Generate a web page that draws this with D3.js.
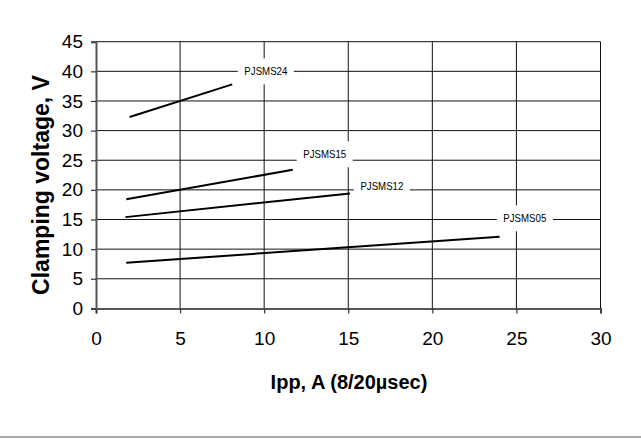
<!DOCTYPE html>
<html>
<head>
<meta charset="utf-8">
<script src="https://cdn.jsdelivr.net/npm/d3@7"></script>
<style>
  html, body { margin: 0; padding: 0; background: #fff; }
  svg { display: block; font-family: "Liberation Sans", Arial, sans-serif; }
</style>
</head>
<body>
<svg id="chart" width="641" height="439"></svg>
<script>
// device names and the two end points
const devices = ["PJSMS24", "PJSMS15", "PJSMS12", "PJSMS05"];
const ippFrom = [2.0, 1.8, 1.75, 1.8];
const ippTo = [8.1, 11.7, 15.1, 24.0];
const vcFrom = [32.3, 18.4, 15.4, 7.7];
const vcTo = [37.8, 23.4, 19.4, 12.1];
// where each name tag sits (data units)
const tagIpp = [10.1, 13.6, 17.0, 25.5];
const tagVc = [40.0, 26.0, 20.6, 15.2];

const xTicks = [0, 5, 10, 15, 20, 25, 30];
const yTicks = [0, 5, 10, 15, 20, 25, 30, 35, 40, 45];

const svg = d3.select("#chart");

const x = d3.scaleLinear().domain([0, 30]).range([96, 600.5]);
const y = d3.scaleLinear().domain([0, 45]).range([308.4, 41.7]);

// gridlines
const grid = svg.append("g").attr("stroke", "#111").attr("stroke-width", 1);
grid.selectAll("line.v")
  .data(xTicks.slice(1))
  .join("line")
  .attr("class", "v")
  .attr("x1", d => x(d)).attr("x2", d => x(d))
  .attr("y1", y(45)).attr("y2", y(0));
grid.selectAll("line.h")
  .data(yTicks.slice(1))
  .join("line")
  .attr("class", "h")
  .attr("x1", x(0)).attr("x2", x(30))
  .attr("y1", d => y(d)).attr("y2", d => y(d));

// axes
const xAxis = svg.append("g")
  .attr("transform", `translate(0,${y(0)})`)
  .call(d3.axisBottom(x).tickValues(xTicks).tickSize(5).tickPadding(18));
const yAxis = svg.append("g")
  .attr("transform", `translate(${x(0)},0)`)
  .call(d3.axisLeft(y).tickValues(yTicks).tickSize(5).tickPadding(8));

[xAxis, yAxis].forEach(g => {
  g.select(".domain").attr("stroke", "#555").attr("stroke-width", 2);
  g.selectAll(".tick line").attr("stroke", "#333").attr("stroke-width", 1.2);
  g.selectAll(".tick text")
    .attr("fill", "#000")
    .style("font-family", "'Liberation Sans', Arial, sans-serif")
    .style("font-size", "19px");
});

// series lines
const line = d3.line().x(d => x(d[0])).y(d => y(d[1]));
svg.append("g")
  .selectAll("path")
  .data(devices.map((name, i) => [[ippFrom[i], vcFrom[i]], [ippTo[i], vcTo[i]]]))
  .join("path")
  .attr("d", line)
  .attr("fill", "none")
  .attr("stroke", "#000")
  .attr("stroke-width", 2);

// name tags with white boxes that break the grid
const tags = svg.append("g")
  .selectAll("g")
  .data(devices)
  .join("g")
  .attr("transform", (d, i) => `translate(${x(tagIpp[i])},${y(tagVc[i])})`);
tags.append("rect")
  .attr("x", -28).attr("y", -13)
  .attr("width", 56).attr("height", 26)
  .attr("fill", "#fff");
tags.append("text")
  .attr("text-anchor", "middle")
  .attr("dy", "0.36em")
  .attr("textLength", 43)
  .attr("lengthAdjust", "spacingAndGlyphs")
  .style("font-size", "11px")
  .attr("fill", "#000")
  .text(d => d);

// axis titles
svg.append("text")
  .attr("x", 349)
  .attr("y", 389.3)
  .attr("text-anchor", "middle")
  .style("font-size", "20px")
  .style("font-weight", "bold")
  .text("Ipp, A (8/20µsec)");

svg.append("text")
  .attr("transform", "translate(48.5,185) rotate(-90)")
  .attr("text-anchor", "middle")
  .style("font-size", "23px")
  .style("font-weight", "bold")
  .text("Clamping voltage, V");

// bottom rule
svg.append("line")
  .attr("x1", 0).attr("x2", 641)
  .attr("y1", 437).attr("y2", 437)
  .attr("stroke", "#aaa")
  .attr("stroke-width", 2);
</script>
</body>
</html>
